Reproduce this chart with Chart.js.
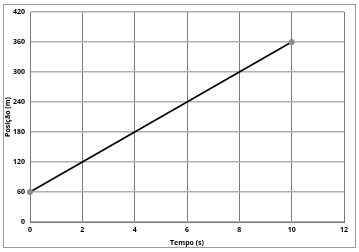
<!DOCTYPE html>
<html>
<head>
<meta charset="utf-8">
<script src="https://cdn.jsdelivr.net/npm/chart.js@4/dist/chart.umd.min.js"></script>
<style>
  html, body { margin: 0; padding: 0; background: #fff; }
  #box { position: absolute; left: 3px; top: 4px; width: 351px; height: 242px; border: 1px solid #9a9a9a; }
</style>
</head>
<body>
<div id="box"><canvas id="chart" width="351" height="242"></canvas></div>
<script>
var tempo = [0, 10]
var posicao = [60, 360]
var xTicks = [0, 2, 4, 6, 8, 10, 12]
var yTicks = [0, 60, 120, 180, 240, 300, 360, 420]

var ctx = document.getElementById('chart')
var tickFont = {family: 'Open Sans', size: 7, weight: 'bold'}

new Chart(ctx, {
  type: 'scatter',
  data: {
    datasets: [{
      data: tempo.map(function (t, i) { return {x: t, y: posicao[i]} }),
      showLine: true,
      clip: false,
      borderColor: '#000',
      borderWidth: 1.6,
      pointRadius: 2.2,
      pointBackgroundColor: '#8c8c8c',
      pointBorderColor: '#8c8c8c'
    }]
  },
  options: {
    responsive: false, animation: false,
    layout: {padding: {top: 7, right: 11, left: 0, bottom: 0}},
    plugins: {legend: {display: false}, tooltip: {enabled: false}},
    scales: {
      x: {
        type: 'linear', min: 0, max: 12,
        afterBuildTicks: function (s) { s.ticks = xTicks.map(function (v) { return {value: v} }) },
        afterFit: function (s) { s.height = 25; s.paddingLeft = 0; s.paddingRight = 0 },
        grid: {color: '#7a7a7a', lineWidth: 1, drawTicks: false},
        border: {color: '#7a7a7a'},
        ticks: {font: tickFont, color: '#000', padding: 4, maxRotation: 0},
        title: {display: true, text: 'Tempo (s)', font: {family: 'Open Sans', size: 7, weight: 'bold'}, color: '#000', padding: {top: 1, bottom: 0}}
      },
      y: {
        min: 0, max: 420,
        afterBuildTicks: function (s) { s.ticks = yTicks.map(function (v) { return {value: v} }) },
        afterFit: function (s) { s.width = 26; s.paddingTop = 0; s.paddingBottom = 0 },
        grid: {color: '#b0b0b0', lineWidth: 1.5, drawTicks: false},
        border: {color: '#7a7a7a'},
        ticks: {font: tickFont, color: '#000', padding: 5},
        title: {display: true, text: 'Posição (m)', font: {family: 'Open Sans', size: 7, weight: 'bold'}, color: '#000', padding: {top: 0, bottom: 1}}
      }
    }
  }
})
</script>
</body>
</html>
